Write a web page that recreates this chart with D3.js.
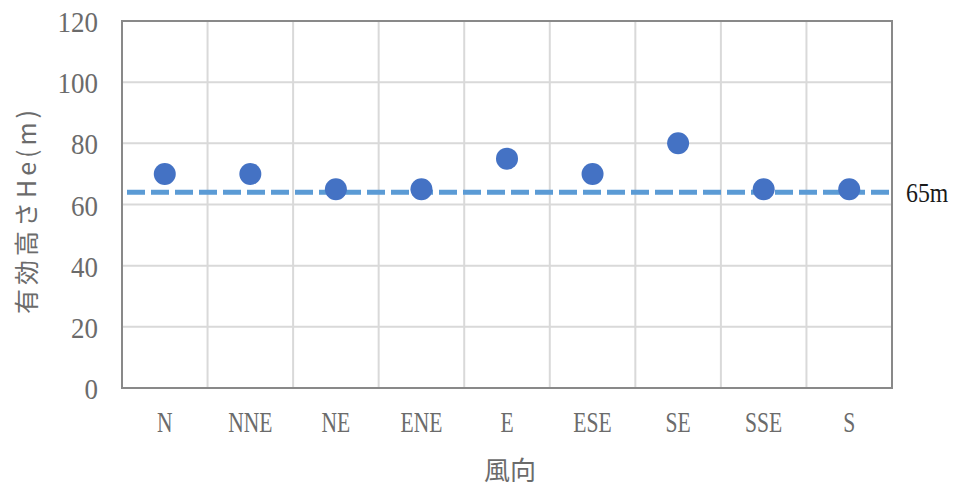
<!DOCTYPE html>
<html><head><meta charset="utf-8">
<script src="https://cdn.jsdelivr.net/npm/d3@7"></script>
<style>body{margin:0;background:#fff}</style>
</head><body>
<svg id="c" width="955" height="491"></svg>
<script>
const categories = ["N","NNE","NE","ENE","E","ESE","SE","SSE","S"];
const heights = [70,70,65,65,75,70,80,65,65];
const refValue = 64;
const refLabel = "65m";
const yTicks = [0,20,40,60,80,100,120];
const xTitle = "風向";
const yTitle = "有効高さHe(m)";

const svg = d3.select("#c");
const L=122, R=892, T=21, B=388;
const x = d3.scaleBand().domain(categories).range([L,R]);
const y = d3.scaleLinear().domain([0,120]).range([B,T]);
const serif = "'Liberation Serif','DejaVu Serif',serif";
const cjk = "'Noto Sans CJK JP',sans-serif";
const grey = "#6b6b6b";

// grid
svg.append("g").selectAll("line").data(yTicks).join("line")
  .attr("x1",L).attr("x2",R).attr("y1",d=>y(d)).attr("y2",d=>y(d))
  .attr("stroke","#d9d9d9").attr("stroke-width",2);
svg.append("g").selectAll("line").data(categories.slice(1)).join("line")
  .attr("x1",d=>x(d)).attr("x2",d=>x(d)).attr("y1",T).attr("y2",B)
  .attr("stroke","#d9d9d9").attr("stroke-width",2);
// frame
svg.append("rect").attr("x",L).attr("y",T).attr("width",R-L).attr("height",B-T)
  .attr("fill","none").attr("stroke","#898989").attr("stroke-width",2);

// y tick labels (condensed serif)
svg.append("g").selectAll("text").data(yTicks).join("text")
  .attr("transform",d=>`translate(98,${y(d)+11}) scale(0.93,1)`)
  .attr("text-anchor","end").attr("font-family",serif).attr("font-size",29)
  .attr("fill",grey).text(d=>d);

// x tick labels
svg.append("g").selectAll("text").data(categories).join("text")
  .attr("transform",d=>`translate(${x(d)+x.bandwidth()/2},${432}) scale(0.72,1)`)
  .attr("text-anchor","middle").attr("font-family",serif).attr("font-size",30)
  .attr("fill",grey).text(d=>d);

// reference line
svg.append("line").attr("x1",L+5).attr("x2",R).attr("y1",y(refValue)).attr("y2",y(refValue))
  .attr("stroke","#5b9bd5").attr("stroke-width",5).attr("stroke-dasharray","18,6");

// dots
svg.append("g").selectAll("circle").data(categories).join("circle")
  .attr("cx",d=>x(d)+x.bandwidth()/2).attr("cy",(d,i)=>y(heights[i]))
  .attr("r",11).attr("fill","#4472c4");

svg.append("text").attr("transform",`translate(906,${y(refValue)+10}) scale(0.85,1)`)
  .attr("font-family",serif).attr("font-size",28).attr("fill","#1a1a1a").text(refLabel);

svg.append("text").attr("x",510).attr("y",480).attr("text-anchor","middle")
  .attr("font-family",cjk).attr("font-size",26).attr("fill",grey).text(xTitle);

svg.append("text").attr("transform",`translate(36,210) rotate(-90)`).attr("text-anchor","middle")
  .attr("font-family",cjk).attr("font-size",25).attr("letter-spacing",4).attr("fill",grey).text(yTitle);
</script>
</body></html>
